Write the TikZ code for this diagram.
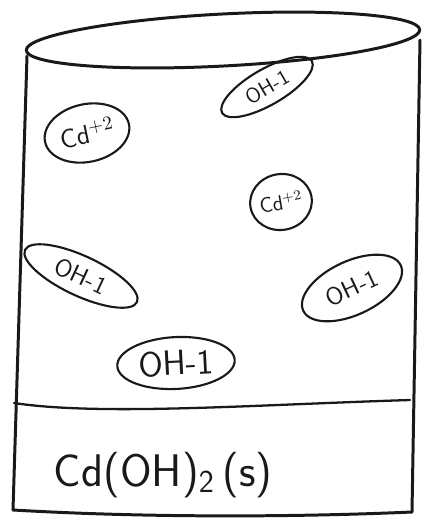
\documentclass[tikz,border=0pt]{standalone}
\usepackage{amsmath}
\usepackage{tikz}
\usetikzlibrary{shapes.geometric}
\definecolor{ink}{RGB}{25, 25, 25}

\tikzset{
  wall/.style={ink, line width=1.7pt, line cap=round, line join=round},
  ion/.style={draw=ink, ellipse, line width=1.2pt, inner sep=0pt, text=ink, font=\sffamily}
}

\begin{document}
\begin{tikzpicture}[x=0.02cm, y=-0.02cm]

  \useasboundingbox (0, 0) rectangle (425, 522);

  % beaker
  \draw[wall, rotate around={3:(223, 40)}] (223, 40) ellipse [x radius=197, y radius=26];
  \draw[wall] (27, 56) -- (13, 510);
  \draw[wall] (420, 40) -- (412, 512);
  \draw[wall] (13, 510) .. controls (150, 518) and (300, 517) .. (412, 512);

  % solid layer
  \draw[wall, line width=1.3pt] (14, 403) .. controls (100, 416) and (250, 405) .. (410, 400);
  \node[ink, font=\sffamily\fontsize{26}{26}\selectfont] (solid) at (163, 475) {Cd(OH)\textsubscript{2}\,(s)};

  % ions
  \node[ion, minimum width=48.8pt, minimum height=32.9pt, rotate=12, font=\sffamily\fontsize{15}{15}\selectfont]
    (cdA) at (87, 133) {Cd$^{+2}$};
  \node[ion, minimum width=59pt, minimum height=20.4pt, rotate=30, font=\sffamily\fontsize{12}{12}\selectfont]
    (ohA) at (267, 87) {OH-1};
  \node[ion, minimum width=35.2pt, minimum height=31.8pt, rotate=10, font=\sffamily\fontsize{12}{12}\selectfont]
    (cdB) at (281, 202) {Cd$^{+2}$};
  \node[ion, minimum width=70.3pt, minimum height=22.7pt, rotate=-25, font=\sffamily\fontsize{14}{14}\selectfont]
    (ohB) at (81, 276) {OH-1};
  \node[ion, minimum width=61.2pt, minimum height=30.6pt, rotate=25, font=\sffamily\fontsize{14}{14}\selectfont]
    (ohC) at (352, 288) {OH-1};
  \node[ion, minimum width=66.9pt, minimum height=29.5pt, rotate=3, font=\sffamily\fontsize{20}{20}\selectfont]
    (ohD) at (176, 363) {OH-1};

\end{tikzpicture}
\end{document}
